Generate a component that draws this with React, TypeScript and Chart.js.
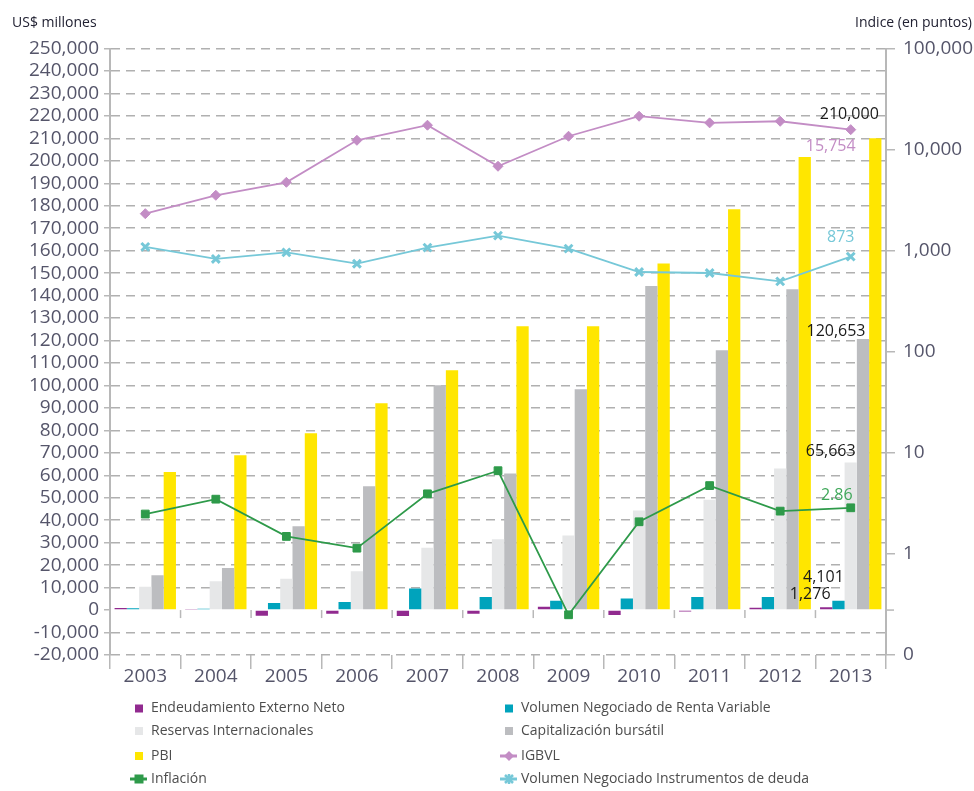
import React, { useEffect, useRef } from "react";
import { Chart, registerables } from "chart.js";

Chart.register(...registerables);

const years = ["2003", "2004", "2005", "2006", "2007", "2008", "2009", "2010", "2011", "2012", "2013"];
const endeudamiento = [900, 300, -2500, -1600, -2600, -1600, 1500, -2200, -600, 1000, 1276];
const rentaVariable = [800, 600, 3200, 3650, 9600, 5800, 4100, 5200, 5800, 5800, 4101];
const reservas = [10400, 12800, 14000, 17300, 27800, 31500, 33200, 44300, 49100, 63000, 65663];
const capitalizacion = [15500, 18700, 37300, 55100, 100100, 60800, 98300, 144300, 115700, 142800, 120653];
const pbi = [61500, 68900, 78700, 92100, 106800, 126300, 126300, 154300, 178400, 201700, 210000];
const igbvl = [2323, 3530, 4745, 12360, 17420, 6840, 13550, 21380, 18380, 19060, 15754];
const inflacion = [2.48, 3.48, 1.49, 1.14, 3.93, 6.65, 0.25, 2.08, 4.74, 2.65, 2.86];
const volDeuda = [1089, 828, 962, 743, 1071, 1408, 1047, 615, 601, 497, 873];
const rightTicks = [0.1, 1, 10, 100, 1000, 10000, 100000];

const C_PURPLE = "#912a8f";
const C_TEAL = "#00a3bc";
const C_RES = "#e6e7e8";
const C_CAP = "#bcbdc0";
const C_PBI = "#ffe600";
const C_IGBVL = "#c38dc5";
const C_INF = "#2e9a4a";
const C_DEUDA = "#76c8d8";
const AXIS = "#b8b8b8";
const GRID = "#b0b0b0";
const TICK = "#55556a";
const FONT = "Open Sans";

const fmt = (v: number) => v.toLocaleString("en-US");

// label annotations: dataset index, offset dx, dy, color
const labelDefs = [
  { ds: 4, dx: -26, dy: -24, color: "#1a1a1a" },
  { ds: 5, dx: -20, dy: 17, color: C_IGBVL },
  { ds: 7, dx: -10, dy: -19, color: C_DEUDA },
  { ds: 3, dx: -27, dy: -8, color: "#1a1a1a" },
  { ds: 2, dx: -20, dy: -11, color: "#1a1a1a" },
  { ds: 6, dx: -14, dy: -12, color: "#3fa85a" },
  { ds: 1, dx: -15, dy: -23, color: "#1a1a1a" },
  { ds: 0, dx: -16, dy: -13, color: "#1a1a1a" },
];

const extrasPlugin = {
  id: "extras",
  afterDatasetsDraw(chart: any) {
    const ctx = chart.ctx;
    const last = years.length - 1;
    ctx.save();
    ctx.font = `16px "${FONT}"`;
    ctx.textAlign = "center";
    ctx.textBaseline = "middle";
    for (const d of labelDefs) {
      const el = chart.getDatasetMeta(d.ds).data[last];
      const v = chart.data.datasets[d.ds].data[last];
      ctx.fillStyle = d.color;
      ctx.fillText(fmt(v), el.x + d.dx, el.y + d.dy);
    }
    ctx.restore();
  },
  afterDraw(chart: any) {
    const ctx = chart.ctx;
    const xs = chart.scales.x;
    const ys = chart.scales.y;
    const area = chart.chartArea;
    const y0 = ys.getPixelForValue(0);
    ctx.save();
    // small ticks on zero line at category boundaries
    ctx.strokeStyle = AXIS;
    ctx.lineWidth = 1.5;
    for (let i = 0; i < years.length - 1; i++) {
      const bx = (xs.getPixelForValue(i) + xs.getPixelForValue(i + 1)) / 2;
      ctx.beginPath();
      ctx.moveTo(bx, y0);
      ctx.lineTo(bx, y0 + 8);
      ctx.stroke();
    }
    ctx.beginPath();
    ctx.moveTo(area.right, y0);
    ctx.lineTo(area.right + 8, y0);
    ctx.stroke();

    // axis titles
    ctx.font = `14px "${FONT}"`;
    ctx.fillStyle = "#222233";
    ctx.textBaseline = "middle";
    ctx.textAlign = "left";
    ctx.fillText("US$ millones", 12, 23);
    ctx.textAlign = "right";
    ctx.fillText("Indice (en puntos)", 972, 23);

    // legend
    const items = [
      { t: "Endeudamiento Externo Neto", c: C_PURPLE, k: "sq", col: 0, row: 0 },
      { t: "Volumen Negociado de Renta Variable", c: C_TEAL, k: "sq", col: 1, row: 0 },
      { t: "Reservas Internacionales", c: C_RES, k: "sq", col: 0, row: 1 },
      { t: "Capitalización bursátil", c: C_CAP, k: "sq", col: 1, row: 1 },
      { t: "PBI", c: C_PBI, k: "sq", col: 0, row: 2 },
      { t: "IGBVL", c: C_IGBVL, k: "dia", col: 1, row: 2 },
      { t: "Inflación", c: C_INF, k: "lsq", col: 0, row: 3 },
      { t: "Volumen Negociado Instrumentos de deuda", c: C_DEUDA, k: "star", col: 1, row: 3 },
    ];
    const rowsY = [708.5, 731, 756, 779];
    const colText = [151, 521];
    ctx.font = `14px "${FONT}"`;
    ctx.textAlign = "left";
    for (const it of items) {
      const y = rowsY[it.row];
      const tx = colText[it.col];
      const mx = tx - 12;
      ctx.fillStyle = it.c;
      ctx.strokeStyle = it.c;
      if (it.k === "sq") {
        ctx.fillRect(mx - 4, y - 4, 8, 8);
      } else {
        ctx.lineWidth = 3;
        ctx.beginPath();
        ctx.moveTo(mx - 9, y);
        ctx.lineTo(mx + 8, y);
        ctx.stroke();
        if (it.k === "dia") {
          ctx.beginPath();
          ctx.moveTo(mx, y - 5);
          ctx.lineTo(mx + 5, y);
          ctx.lineTo(mx, y + 5);
          ctx.lineTo(mx - 5, y);
          ctx.closePath();
          ctx.fill();
        } else if (it.k === "lsq") {
          ctx.fillRect(mx - 4.5, y - 4.5, 9, 9);
        } else {
          ctx.lineWidth = 2.5;
          ctx.beginPath();
          ctx.moveTo(mx - 4, y - 4);
          ctx.lineTo(mx + 4, y + 4);
          ctx.moveTo(mx + 4, y - 4);
          ctx.lineTo(mx - 4, y + 4);
          ctx.moveTo(mx, y - 5);
          ctx.lineTo(mx, y + 5);
          ctx.stroke();
        }
      }
      ctx.fillStyle = "#4d4d4d";
      ctx.fillText(it.t, tx, y);
    }
    ctx.restore();
  },
};

export default function App() {
  const ref = useRef<HTMLCanvasElement | null>(null);
  useEffect(() => {
    if (!ref.current) return;
    const tickFont = { family: FONT, size: 19 };
    const chart = new Chart(ref.current, {
      type: "bar",
      data: {
        labels: years,
        datasets: [
          { type: "bar", label: "Endeudamiento Externo Neto", data: endeudamiento, backgroundColor: C_PURPLE, yAxisID: "y", order: 1 },
          { type: "bar", label: "Volumen Negociado de Renta Variable", data: rentaVariable, backgroundColor: C_TEAL, yAxisID: "y", order: 1 },
          { type: "bar", label: "Reservas Internacionales", data: reservas, backgroundColor: C_RES, yAxisID: "y", order: 1 },
          { type: "bar", label: "Capitalización bursátil", data: capitalizacion, backgroundColor: C_CAP, yAxisID: "y", order: 1 },
          { type: "bar", label: "PBI", data: pbi, backgroundColor: C_PBI, yAxisID: "y", order: 1 },
          {
            type: "line", label: "IGBVL", data: igbvl, borderColor: C_IGBVL, backgroundColor: C_IGBVL,
            borderWidth: 1.8, pointStyle: "rectRot", pointRadius: 5, pointBorderWidth: 1, yAxisID: "y2", order: 0, tension: 0,
          },
          {
            type: "line", label: "Inflación", data: inflacion, borderColor: C_INF, backgroundColor: C_INF,
            borderWidth: 1.8, pointStyle: "rect", pointRadius: 5.5, pointBorderWidth: 1, yAxisID: "y2", order: 0, tension: 0,
          },
          {
            type: "line", label: "Volumen Negociado Instrumentos de deuda", data: volDeuda, borderColor: C_DEUDA, backgroundColor: C_DEUDA,
            borderWidth: 1.8, pointStyle: "crossRot", pointRadius: 5.5, pointBorderWidth: 3, yAxisID: "y2", order: 0, tension: 0,
          },
        ],
      },
      options: {
        responsive: false,
        animation: false,
        events: [],
        datasets: { bar: { categoryPercentage: 0.87, barPercentage: 1 } },
        layout: { padding: { top: 48.5, left: 0, right: 0, bottom: 0 } },
        plugins: { legend: { display: false }, tooltip: { enabled: false } },
        scales: {
          x: {
            grid: { display: true, drawOnChartArea: false, offset: true, tickLength: 14, color: AXIS, lineWidth: 1.5 },
            border: { display: false },
            ticks: { font: tickFont, color: TICK, padding: -4, maxRotation: 0, autoSkip: false },
            afterFit: (s: any) => { s.height = 136; },
          },
          y: {
            position: "left",
            min: -20000,
            max: 250000,
            ticks: { stepSize: 10000, autoSkip: false, font: tickFont, color: TICK, padding: 5, callback: (v: any) => fmt(Number(v)) },
            grid: {
              color: (c: any) => (c.tick && c.tick.value === 0 ? "rgba(0,0,0,0)" : GRID),
              lineWidth: 1.5, tickLength: 6, tickColor: AXIS, tickBorderDash: [],
            },
            border: { display: true, color: AXIS, width: 2, dash: [9, 6] },
            afterFit: (s: any) => { s.width = 110; },
          },
          y2: {
            type: "logarithmic",
            position: "right",
            min: 0.1,
            max: 100000,
            afterBuildTicks: (s: any) => { s.ticks = rightTicks.map((v) => ({ value: v })); },
            ticks: { font: tickFont, color: TICK, padding: 8, autoSkip: false, callback: (v: any) => fmt(Math.round(Number(v))) },
            grid: { drawOnChartArea: false, tickLength: 9, color: AXIS, lineWidth: 1.5 },
            border: { display: true, color: AXIS, width: 2 },
            afterFit: (s: any) => { s.width = 88; },
          },
        },
      },
      plugins: [extrasPlugin],
    } as any);
    return () => chart.destroy();
  }, []);
  return (
    <div style={{ position: "absolute", left: 0, top: 0, width: 974, height: 791, background: "#fff" }}>
      <canvas ref={ref} width={974} height={791} style={{ display: "block", width: 974, height: 791 }} />
    </div>
  );
}
